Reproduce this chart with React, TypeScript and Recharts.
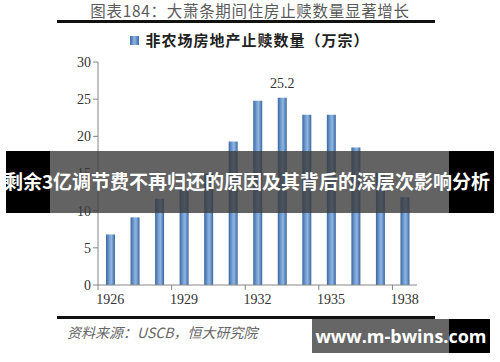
import React from 'react';
import { BarChart, Bar, XAxis, YAxis, LabelList } from 'recharts';

const years = ['1926', '1927', '1928', '1929', '1930', '1931', '1932', '1933', '1934', '1935', '1936', '1937', '1938'];
const foreclosures = [6.8, 9.1, 11.6, 12.9, 15.0, 19.3, 24.8, 25.2, 22.9, 22.9, 18.5, 15.1, 11.8];
const yTicks = [0, 5, 10, 15, 20, 25, 30];
const shownYears = ['1926', '1929', '1932', '1935', '1938'];

const chartTitle = '图表184：大萧条期间住房止赎数量显著增长';
const seriesName = '非农场房地产止赎数量（万宗）';
const sourceNote = '资料来源：USCB，恒大研究院';
const bannerText = '剩余3亿调节费不再归还的原因及其背后的深层次影响分析';
const watermark = 'www.m-bwins.com';

const data = years.map((y, i) => ({ year: y, value: foreclosures[i] }));

const CJK = '"Noto Sans CJK SC", "Noto Sans", sans-serif';
const SERIF = '"Liberation Serif", "DejaVu Serif", serif';

const W = 500;
const H = 362;
const PLOT_LEFT = 98;
const PLOT_RIGHT = 417;
const BAND = (PLOT_RIGHT - PLOT_LEFT) / years.length;

// year label centred on bar, tick mark sits on the band's left edge
const YearTick = (props: any) => {
  const { x, y, payload } = props;
  if (!shownYears.includes(payload.value)) return null;
  const edge = x - BAND / 2;
  return (
    <g>
      <line x1={edge} y1={y - 8} x2={edge} y2={y - 3} stroke="#868686" />
      <text x={x} y={y + 11} textAnchor="middle" fontSize={14} fontFamily={SERIF} fill="#333">
        {payload.value}
      </text>
    </g>
  );
};

const peak = Math.max(...foreclosures);

const PeakLabel = (props: any) => {
  const { x, y, width, value } = props;
  if (value !== peak) return null;
  return (
    <text x={x + width / 2} y={y - 10} textAnchor="middle" fontSize={14} fontFamily={SERIF} fill="#333">
      {value}
    </text>
  );
};

export default function App() {
  return (
    <div style={{ position: 'relative', width: W, height: H, background: '#fff', overflow: 'hidden' }}>
      <style>{'body{margin:0}'}</style>

      <div style={{ position: 'absolute', top: 1, left: 0, width: W, textAlign: 'center', fontFamily: CJK, fontSize: 15.5, lineHeight: '18px', color: '#5a5a5a', letterSpacing: 0.7 }}>
        {chartTitle}
      </div>
      <div style={{ position: 'absolute', top: 20, left: 57, width: 378, height: 2.5, background: '#111' }} />

      <div style={{ position: 'absolute', top: 31, left: 0, width: W, display: 'flex', alignItems: 'center', justifyContent: 'center', fontFamily: CJK, fontSize: 15, lineHeight: '18px', fontWeight: 700, color: '#222', letterSpacing: 1 }}>
        <span style={{ width: 9, height: 9, background: 'linear-gradient(90deg,#3a6aa8,#8fb4e3,#3a6aa8)', marginRight: 6, display: 'inline-block' }} />
        {seriesName}
      </div>

      <BarChart width={W} height={H} data={data} margin={{ top: 62, right: W - PLOT_RIGHT, bottom: 57, left: PLOT_LEFT - 40 }}>
        <defs>
          <linearGradient id="barFill" x1="0" y1="0" x2="1" y2="0">
            <stop offset="0%" stopColor="#38679f" />
            <stop offset="40%" stopColor="#7aa3d6" />
            <stop offset="60%" stopColor="#8fb4e3" />
            <stop offset="100%" stopColor="#38679f" />
          </linearGradient>
        </defs>
        <YAxis
          width={40}
          domain={[0, 30]}
          ticks={yTicks}
          interval={0}
          stroke="#868686"
          tickSize={5}
          tick={{ fontSize: 14, fontFamily: SERIF, fill: '#333' }}
        />
        <XAxis
          dataKey="year"
          interval={0}
          stroke="#868686"
          tickLine={false}
          height={20}
          tick={<YearTick />}
        />
        <Bar dataKey="value" fill="url(#barFill)" barSize={9} isAnimationActive={false}>
          <LabelList dataKey="value" content={<PeakLabel />} />
        </Bar>
      </BarChart>

      <div style={{ position: 'absolute', top: 316, left: 57, width: 378, height: 3, background: '#111' }} />
      <div style={{ position: 'absolute', top: 322, left: 67, fontFamily: CJK, fontSize: 14, fontStyle: 'italic', color: '#666' }}>
        {sourceNote}
      </div>

      <div style={{ position: 'absolute', top: 151, left: 6, width: 488, height: 62, background: 'rgba(60,60,60,0.8)' }}>
        <div style={{ position: 'absolute', left: 0, top: 0, width: 44, height: 62, background: '#000' }} />
        <div style={{ position: 'absolute', right: 0, top: 0, width: 45, height: 62, background: '#000' }} />
      </div>
      <div style={{ position: 'absolute', top: 167, left: -3, width: W, textAlign: 'center', whiteSpace: 'nowrap', fontFamily: CJK, fontSize: 19, fontWeight: 700, color: '#fff' }}>
        {bannerText}
      </div>

      <div style={{ position: 'absolute', top: 319, left: 312, width: 178, height: 34, background: '#666' }}>
        <div style={{ position: 'absolute', right: 0, top: 0, width: 41, height: 34, background: '#000' }} />
        <div style={{ position: 'absolute', left: 0, top: 5, width: 178, textAlign: 'center', whiteSpace: 'nowrap', fontFamily: '"Open Sans", "DejaVu Sans", sans-serif', fontSize: 18, fontWeight: 700, color: '#fff' }}>
          {watermark}
        </div>
      </div>
    </div>
  );
}
